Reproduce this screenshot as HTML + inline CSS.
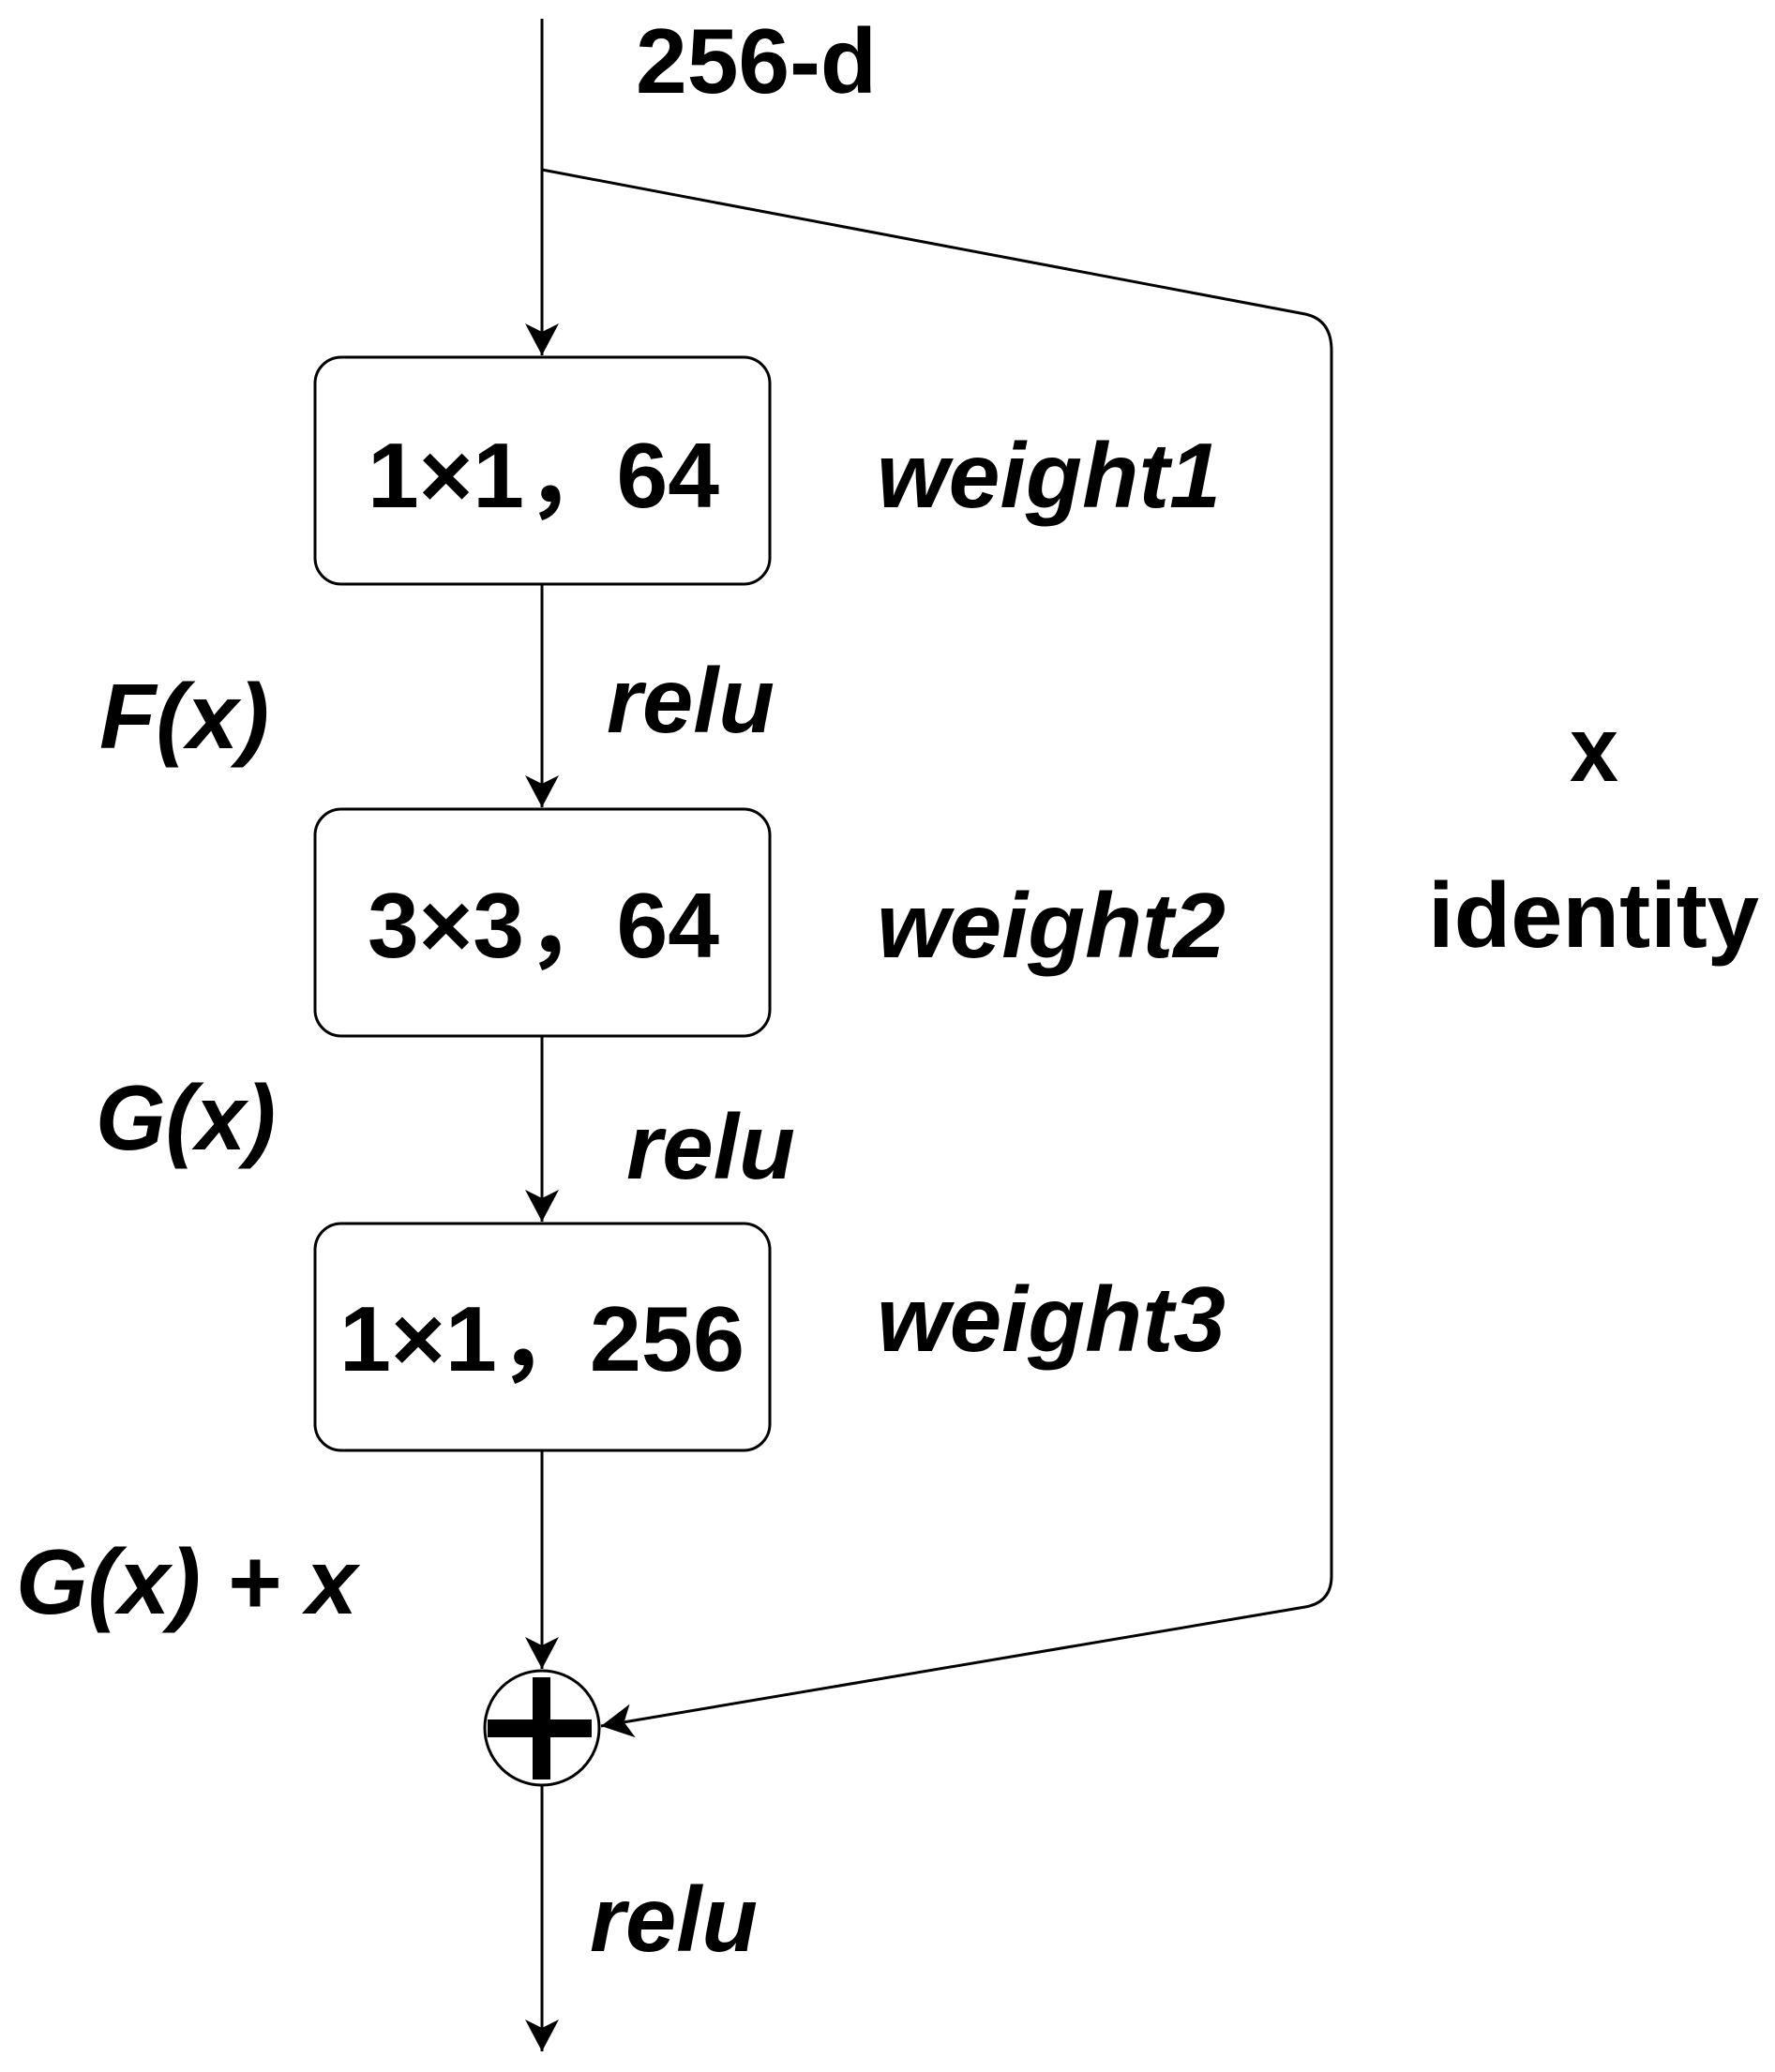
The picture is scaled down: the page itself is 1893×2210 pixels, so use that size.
<!DOCTYPE html>
<html><head><meta charset="utf-8"><style>
html,body{margin:0;padding:0;background:#fff}
svg{display:block}
text{font-family:"Liberation Sans","Noto Sans CJK SC",sans-serif;font-weight:bold;fill:#000}
.i{font-style:italic}
</style></head><body>
<svg width="1893" height="2210" viewBox="0 0 1893 2210" xmlns="http://www.w3.org/2000/svg">
<defs>
<marker id="a" markerWidth="40" markerHeight="40" refX="34" refY="18" orient="auto" markerUnits="userSpaceOnUse">
<path d="M0,0 L34,18 L0,36 L9,18 Z" fill="#000"/>
</marker>
</defs>
<g stroke="#000" stroke-width="3" fill="none">
<line x1="578" y1="20" x2="578" y2="379" marker-end="url(#a)"/>
<line x1="578" y1="623" x2="578" y2="861" marker-end="url(#a)"/>
<line x1="578" y1="1105" x2="578" y2="1303" marker-end="url(#a)"/>
<line x1="578" y1="1547" x2="578" y2="1780" marker-end="url(#a)"/>
<line x1="578" y1="1905" x2="578" y2="2188" marker-end="url(#a)"/>
<path d="M578,181 L1392,335 Q1420,341 1420,374 L1420,1681 Q1420,1709 1392,1714 L641,1841" marker-end="url(#a)"/>
<rect x="336" y="381" width="485" height="242" rx="28"/>
<rect x="336" y="863" width="485" height="242" rx="28"/>
<rect x="336" y="1305" width="485" height="242" rx="28"/>
<circle cx="578" cy="1843" r="61"/>
</g>
<rect x="568" y="1789" width="19" height="109" fill="#000"/>
<rect x="520" y="1834" width="111" height="19" fill="#000"/>
<g font-size="98">
<text x="678" y="99" textLength="257" lengthAdjust="spacingAndGlyphs">256-d</text>
<text x="392" y="541" textLength="375" lengthAdjust="spacingAndGlyphs">1×1，64</text>
<text x="392" y="1021" textLength="375" lengthAdjust="spacingAndGlyphs">3×3，64</text>
<text x="362" y="1462" textLength="432" lengthAdjust="spacingAndGlyphs">1×1，256</text>
<text class="i" x="935" y="541" textLength="367" lengthAdjust="spacingAndGlyphs">weight1</text>
<text class="i" x="935" y="1021" textLength="372" lengthAdjust="spacingAndGlyphs">weight2</text>
<text class="i" x="935" y="1441" textLength="372" lengthAdjust="spacingAndGlyphs">weight3</text>
<text class="i" x="647" y="781" textLength="179" lengthAdjust="spacingAndGlyphs">relu</text>
<text class="i" x="668" y="1257" textLength="180" lengthAdjust="spacingAndGlyphs">relu</text>
<text class="i" x="629" y="2081" textLength="179" lengthAdjust="spacingAndGlyphs">relu</text>
<text class="i" x="106" y="798" textLength="181" lengthAdjust="spacingAndGlyphs">F(x)</text>
<text class="i" x="102" y="1226" textLength="192" lengthAdjust="spacingAndGlyphs">G(x)</text>
<text class="i" x="17" y="1721" textLength="364" lengthAdjust="spacingAndGlyphs">G(x) + x</text>
<text x="1674" y="833" textLength="52" lengthAdjust="spacingAndGlyphs">x</text>
<text x="1523" y="1010" textLength="353" lengthAdjust="spacingAndGlyphs">identity</text>
</g>
</svg>
</body></html>
